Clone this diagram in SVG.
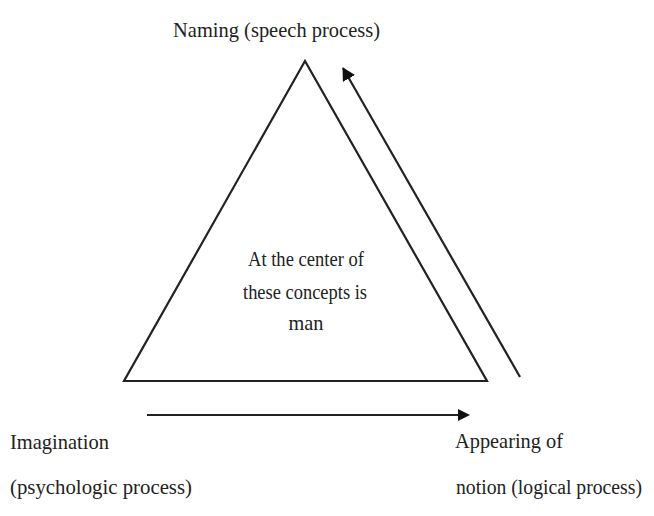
<svg xmlns="http://www.w3.org/2000/svg" width="654" height="516" viewBox="0 0 654 516">
<defs>
<style>
text{font-family:"Liberation Serif","Times New Roman",serif;fill:#222;font-size:22px}
.ln{stroke:#222;stroke-width:2.2;fill:none}
</style>
<marker id="ah" markerWidth="12" markerHeight="12" refX="10" refY="6" orient="auto" markerUnits="userSpaceOnUse"><path d="M0,0 L12,6 L0,12 Z" fill="#111"/></marker>
<marker id="ah2" markerWidth="14" markerHeight="14" refX="12" refY="7" orient="auto" markerUnits="userSpaceOnUse"><path d="M0,0 L13,7 L0,14 Z" fill="#111"/></marker>
</defs>
<rect width="654" height="516" fill="#fff"/>
<g id="triangle">
<polygon class="ln" points="305,61 124,381 487,381"/>
</g>
<g id="center">
<text x="306" y="266" text-anchor="middle" textLength="116" lengthAdjust="spacingAndGlyphs">At the center of</text>
<text x="305" y="299" text-anchor="middle" textLength="124" lengthAdjust="spacingAndGlyphs">these concepts is</text>
<text x="306" y="330" text-anchor="middle" textLength="35" lengthAdjust="spacingAndGlyphs">man</text>
</g>
<g id="naming">
<text x="173" y="37" textLength="207" lengthAdjust="spacingAndGlyphs">Naming (speech process)</text>
</g>
<g id="imagination">
<text x="10" y="449" textLength="99" lengthAdjust="spacingAndGlyphs">Imagination</text>
<text x="10" y="494" textLength="182" lengthAdjust="spacingAndGlyphs">(psychologic process)</text>
</g>
<g id="notion">
<text x="455" y="448" textLength="108" lengthAdjust="spacingAndGlyphs">Appearing of</text>
<text x="456" y="494" style="font-size:20.5px" textLength="186" lengthAdjust="spacingAndGlyphs">notion (logical process)</text>
</g>
<g id="connectors">
<line class="ln" x1="147" y1="415" x2="468" y2="415" marker-end="url(#ah)"/>
<line class="ln" x1="520" y1="377" x2="343" y2="68" marker-end="url(#ah2)"/>
</g>
</svg>
